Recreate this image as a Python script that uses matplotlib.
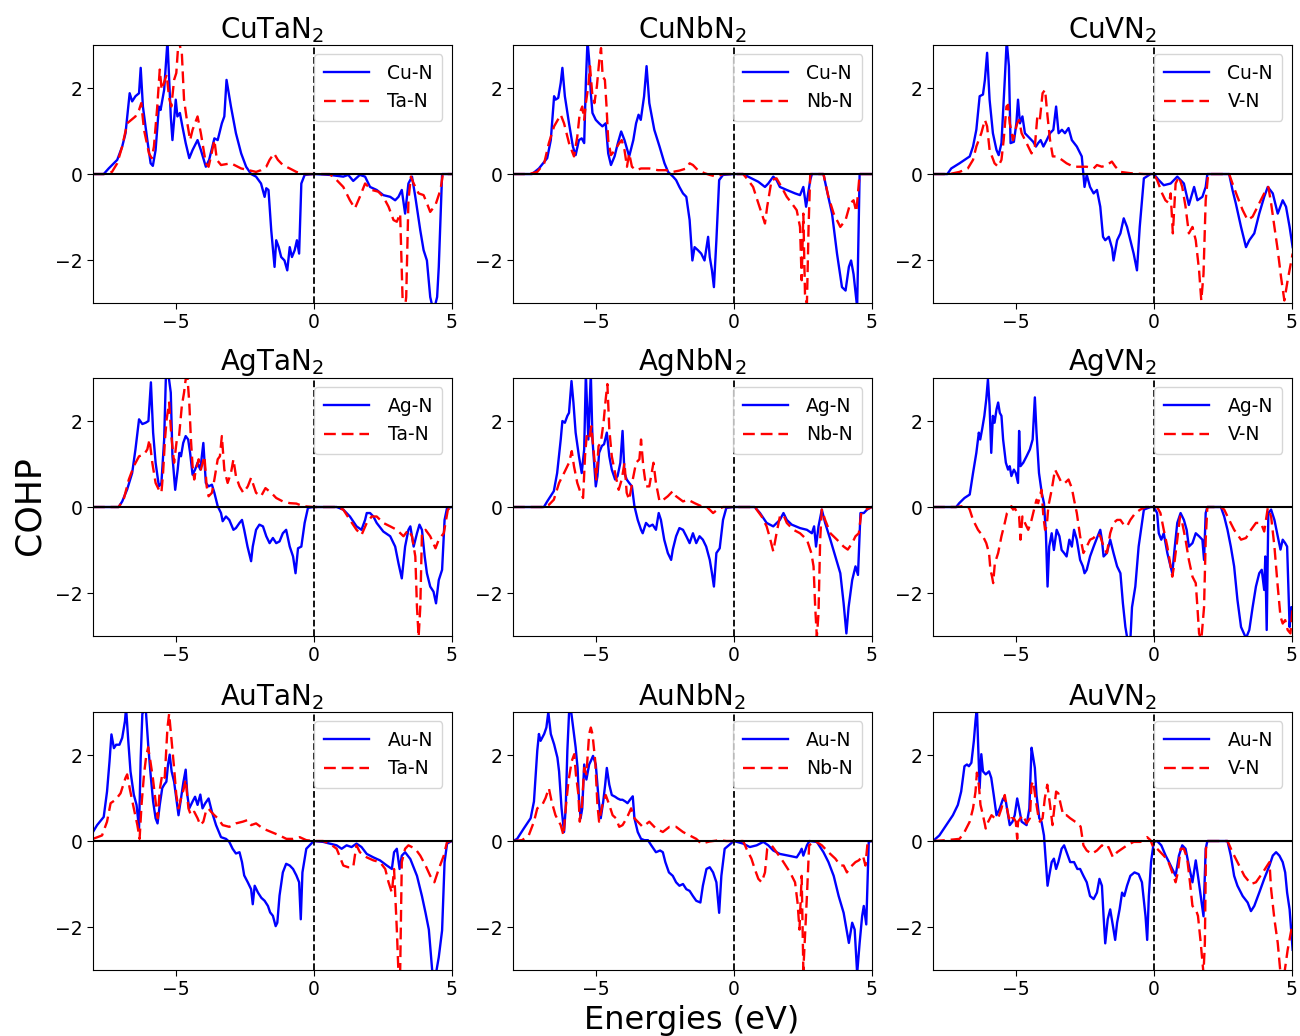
"""
COHP of M-N and X-N bonds for the nine MXN2 nitrides (M = Cu, Ag, Au; X = Ta, Nb, V).
Values are read off the original figure as (energy eV, COHP) pairs.
"""

import matplotlib
matplotlib.use("Agg")
import matplotlib.pyplot as plt
import numpy as np

# ---------------------------------------------------------------------------
# Data: (E, COHP) pairs for each curve
# ---------------------------------------------------------------------------

CUTA_M = [(-8, 0), (-7.61, 0), (-7.43, 0.13), (-7.12, 0.33), (-6.94, 0.64), (-6.82, 0.95), (-6.67, 1.88),
          (-6.58, 1.69), (-6.46, 1.81), (-6.33, 1.88), (-6.27, 2.47), (-6.19, 1.57), (-6.03, 0.79), (-5.91, 0.25),
          (-5.83, 0.19), (-5.73, 0.56), (-5.61, 1.57), (-5.55, 1.49), (-5.42, 1.96), (-5.30, 3.1), (-5.18, 1.34),
          (-5.12, 0.79), (-5.06, 1.26), (-5.00, 1.73), (-4.94, 1.34), (-4.85, 1.42), (-4.76, 1.11), (-4.64, 0.72),
          (-4.51, 0.37), (-4.39, 0.56), (-4.21, 0.79), (-4.09, 0.56), (-3.91, 0.17), (-3.79, 0.33), (-3.60, 0.83),
          (-3.48, 0.79), (-3.33, 1.18), (-3.24, 1.34), (-3.16, 2.19), (-3.00, 1.57), (-2.82, 0.95), (-2.63, 0.48),
          (-2.45, 0.17), (-2.27, 0), (-2.09, -0.06), (-1.91, -0.22), (-1.78, -0.53), (-1.72, -0.33), (-1.64, -0.37),
          (-1.54, -1.31), (-1.42, -2.16), (-1.36, -1.54), (-1.27, -1.70), (-1.18, -1.93), (-1.06, -2.01),
          (-0.96, -2.24), (-0.87, -1.70), (-0.79, -1.93), (-0.69, -1.77), (-0.61, -1.54), (-0.53, -1.85),
          (-0.45, -0.22), (-0.33, -0.02), (0, 0), (0.58, -0.02), (1.07, -0.06), (1.25, -0.02), (1.43, -0.16),
          (1.67, -0.02), (1.86, -0.06), (2.04, -0.30), (2.28, -0.37), (2.52, -0.49), (2.77, -0.53), (2.95, -0.61),
          (3.07, -0.53), (3.19, -0.37), (3.31, -0.92), (3.43, -0.22), (3.56, -0.06), (3.68, -0.53), (3.86, -1.31),
          (3.98, -1.77), (4.10, -2.01), (4.22, -2.86), (4.34, -3.2), (4.47, -2.86), (4.53, -2.16), (4.65, 0), (5, 0)]
CUTA_X = [(-8, 0), (-7.55, 0), (-7.31, 0.05), (-7.12, 0.25), (-6.94, 0.64), (-6.76, 1.18), (-6.46, 1.34),
          (-6.33, 1.49), (-6.25, 1.65), (-6.15, 1.03), (-5.97, 0.48), (-5.87, 0.37), (-5.79, 0.64), (-5.67, 1.57),
          (-5.58, 2.43), (-5.51, 1.96), (-5.33, 2.31), (-5.24, 1.77), (-5.16, 1.57), (-5.06, 2.19), (-4.98, 2.35),
          (-4.90, 3.1), (-4.78, 2.82), (-4.70, 1.73), (-4.58, 1.18), (-4.48, 0.79), (-4.39, 1.03), (-4.21, 1.34),
          (-4.09, 0.95), (-3.91, 0.25), (-3.81, 0.17), (-3.70, 0.48), (-3.60, 0.79), (-3.51, 0.33), (-3.36, 0.21),
          (-3.00, 0.25), (-2.63, 0.13), (-2.09, 0.05), (-1.91, 0.09), (-1.72, 0.17), (-1.60, 0.33), (-1.44, 0.48),
          (-1.30, 0.33), (-1.12, 0.21), (-0.87, 0.13), (-0.63, 0.05), (-0.39, 0), (0, 0), (0.58, 0), (0.83, -0.14),
          (1.07, -0.30), (1.31, -0.61), (1.49, -0.80), (1.67, -0.53), (1.86, -0.22), (2.10, -0.37), (2.34, -0.41),
          (2.52, -0.53), (2.71, -0.76), (2.89, -1.07), (3.01, -1.11), (3.13, -0.92), (3.22, -2.94), (3.29, -3.2),
          (3.35, -2.86), (3.43, -0.61), (3.52, -0.06), (3.62, -0.22), (3.80, -0.45), (3.98, -0.49), (4.10, -0.68),
          (4.22, -0.88), (4.41, -0.72), (4.59, -0.37), (4.68, 0), (5, 0)]

CUNB_M = [(-8, 0), (-7.31, 0), (-7.06, 0.13), (-6.76, 0.37), (-6.63, 0.79), (-6.51, 1.81), (-6.46, 1.73),
          (-6.36, 1.77), (-6.27, 2.12), (-6.21, 2.47), (-6.12, 1.81), (-5.97, 1.18), (-5.83, 0.64), (-5.73, 0.44),
          (-5.61, 0.79), (-5.51, 0.83), (-5.42, 0.72), (-5.36, 2.12), (-5.30, 3.1), (-5.24, 2.65), (-5.18, 1.88),
          (-5.12, 1.42), (-5.00, 1.26), (-4.88, 1.18), (-4.76, 1.11), (-4.64, 1.18), (-4.55, 0.48), (-4.45, 0.21),
          (-4.32, 0.41), (-4.20, 0.72), (-4.08, 0.99), (-3.96, 0.79), (-3.79, 0.41), (-3.64, 0.79), (-3.54, 1.18),
          (-3.45, 1.38), (-3.37, 1.26), (-3.25, 1.81), (-3.16, 2.51), (-3.06, 1.65), (-2.88, 1.03), (-2.69, 0.64),
          (-2.51, 0.25), (-2.38, 0.05), (-2.20, -0.06), (-2.09, -0.14), (-1.97, -0.30), (-1.84, -0.45),
          (-1.72, -0.53), (-1.60, -1.07), (-1.50, -2.01), (-1.42, -1.70), (-1.30, -1.77), (-1.18, -1.85),
          (-1.06, -2.01), (-0.93, -1.46), (-0.87, -1.93), (-0.79, -2.24), (-0.72, -2.63), (-0.63, -1.54),
          (-0.53, -0.14), (-0.39, -0.02), (0, 0), (0.34, 0), (0.58, -0.08), (0.89, -0.18), (1.13, -0.30),
          (1.25, -0.22), (1.43, -0.06), (1.55, -0.14), (1.67, -0.30), (1.92, -0.37), (2.22, -0.45), (2.40, -0.49),
          (2.52, -0.30), (2.62, -0.76), (2.77, -0.14), (2.83, 0), (3.25, 0), (3.37, -0.37), (3.56, -0.92),
          (3.74, -1.85), (3.92, -2.63), (4.05, -2.71), (4.17, -2.16), (4.25, -2.01), (4.34, -2.33), (4.47, -3.1),
          (4.56, 0), (5, 0)]
CUNB_X = [(-8, 0), (-7.43, 0), (-7.12, 0.05), (-6.87, 0.25), (-6.70, 0.72), (-6.51, 1.11), (-6.27, 1.38),
          (-6.15, 1.18), (-5.97, 0.72), (-5.79, 0.41), (-5.67, 0.87), (-5.58, 1.42), (-5.49, 1.57), (-5.42, 1.26),
          (-5.36, 1.65), (-5.27, 2.04), (-5.21, 2.51), (-5.13, 1.88), (-5.05, 1.65), (-4.96, 2.04), (-4.87, 2.66),
          (-4.81, 2.93), (-4.75, 2.27), (-4.67, 2.19), (-4.61, 1.57), (-4.55, 0.79), (-4.45, 0.44), (-4.30, 0.56),
          (-4.15, 0.72), (-4.06, 0.79), (-3.96, 0.56), (-3.87, 0.17), (-3.79, 0.48), (-3.69, 0.17), (-3.54, 0.09),
          (-3.36, 0.13), (-3.06, 0.13), (-2.75, 0.09), (-2.45, 0.09), (-2.21, 0.05), (-1.97, 0.08), (-1.72, 0.13),
          (-1.60, 0.25), (-1.48, 0.21), (-1.30, 0.09), (-1.06, 0.02), (-0.87, -0.02), (-0.63, -0.06), (-0.39, 0),
          (0, 0), (0.34, 0), (0.52, -0.14), (0.70, -0.30), (0.89, -0.68), (1.13, -1.15), (1.21, -0.76),
          (1.37, -0.14), (1.55, -0.10), (1.73, -0.30), (1.92, -0.53), (2.10, -0.68), (2.28, -0.84), (2.40, -1.23),
          (2.46, -2.47), (2.52, -0.92), (2.58, -2.79), (2.65, -3.02), (2.71, -1.23), (2.77, 0), (3.25, 0),
          (3.43, -0.53), (3.62, -0.92), (3.86, -1.23), (4.05, -1.07), (4.22, -0.68), (4.34, -0.61), (4.44, -0.88),
          (4.56, 0), (5, 0)]

CUV_M = [(-8, 0), (-7.48, 0), (-7.34, 0.13), (-7.04, 0.25), (-6.67, 0.41), (-6.55, 0.64), (-6.43, 1.03),
         (-6.31, 1.81), (-6.19, 1.85), (-6.12, 2.19), (-6.04, 2.82), (-5.95, 1.73), (-5.83, 0.95), (-5.70, 0.56),
         (-5.62, 0.44), (-5.52, 0.72), (-5.40, 2.19), (-5.33, 3.1), (-5.25, 2.51), (-5.19, 0.72), (-5.07, 0.75),
         (-4.98, 1.18), (-4.92, 1.73), (-4.85, 1.18), (-4.76, 1.34), (-4.67, 0.95), (-4.55, 0.87), (-4.37, 0.75),
         (-4.27, 0.64), (-4.19, 0.72), (-4.10, 0.79), (-4.00, 0.64), (-3.88, 0.79), (-3.76, 0.95), (-3.64, 1.03),
         (-3.54, 1.57), (-3.45, 0.95), (-3.33, 1.03), (-3.22, 0.95), (-3.09, 1.07), (-2.97, 0.79), (-2.79, 0.64),
         (-2.61, 0.41), (-2.51, -0.30), (-2.43, -0.02), (-2.31, -0.30), (-2.18, -0.45), (-2.06, -0.37),
         (-1.94, -0.76), (-1.84, -1.46), (-1.76, -1.54), (-1.63, -1.46), (-1.51, -1.73), (-1.46, -2.01),
         (-1.33, -1.54), (-1.21, -1.38), (-1.09, -1.03), (-0.97, -1.23), (-0.85, -1.54), (-0.73, -1.85),
         (-0.61, -2.24), (-0.51, -1.23), (-0.36, -0.10), (-0.12, 0), (0, 0), (0.18, -0.14), (0.36, -0.26),
         (0.61, -0.22), (0.73, -0.14), (0.85, -0.06), (0.97, -0.14), (1.09, -0.22), (1.27, -0.72), (1.46, -0.30),
         (1.58, -0.61), (1.76, -0.53), (1.88, -0.30), (1.94, 0), (2.73, 0), (2.85, -0.37), (2.97, -0.68),
         (3.16, -1.23), (3.34, -1.70), (3.46, -1.54), (3.64, -1.38), (3.82, -0.92), (4.00, -0.53), (4.13, -0.30),
         (4.31, -0.45), (4.49, -0.92), (4.67, -0.61), (4.79, -0.76), (4.92, -1.23), (5.03, -1.70)]
CUV_X = [(-8, 0), (-7.40, 0), (-7.04, 0.05), (-6.74, 0.13), (-6.55, 0.33), (-6.43, 0.64), (-6.25, 0.95),
         (-6.12, 1.26), (-6.04, 1.11), (-5.95, 0.56), (-5.77, 0.25), (-5.64, 0.17), (-5.52, 0.33), (-5.44, 0.79),
         (-5.34, 1.57), (-5.28, 1.61), (-5.22, 1.18), (-5.10, 0.79), (-4.95, 1.18), (-4.88, 1.26), (-4.79, 0.95),
         (-4.61, 0.72), (-4.43, 0.48), (-4.31, 0.64), (-4.22, 1.34), (-4.13, 1.26), (-4.03, 1.88), (-3.94, 1.96),
         (-3.85, 1.34), (-3.76, 0.79), (-3.66, 0.41), (-3.52, 0.41), (-3.33, 0.33), (-3.16, 0.25), (-2.91, 0.17),
         (-2.67, 0.17), (-2.43, 0.17), (-2.18, 0.13), (-2.06, 0.21), (-1.88, 0.17), (-1.70, 0.21), (-1.52, 0.29),
         (-1.39, 0.17), (-1.21, 0.05), (-0.85, 0.02), (-0.36, 0), (0, 0), (0.12, -0.14), (0.30, -0.45),
         (0.42, -0.61), (0.55, -0.68), (0.61, -0.45), (0.69, -1.38), (0.79, -0.22), (0.91, -0.06), (1.03, -0.30),
         (1.15, -0.76), (1.27, -1.38), (1.40, -1.23), (1.52, -1.54), (1.64, -2.24), (1.72, -2.94), (1.80, -2.33),
         (1.88, -0.61), (1.97, 0), (2.73, 0), (2.85, -0.22), (3.03, -0.53), (3.22, -0.84), (3.40, -1.07),
         (3.58, -0.99), (3.82, -0.68), (4.00, -0.45), (4.15, -0.30), (4.25, -0.68), (4.37, -1.23), (4.49, -1.77),
         (4.61, -2.40), (4.73, -2.94), (4.85, -2.47), (5.03, -1.85)]

AGTA_M = [(-8, 0), (-7.07, 0), (-6.94, 0.13), (-6.76, 0.41), (-6.58, 0.79), (-6.46, 1.34), (-6.33, 2.04),
          (-6.21, 1.93), (-6.09, 1.96), (-5.99, 2.00), (-5.90, 2.90), (-5.82, 1.73), (-5.73, 1.03), (-5.61, 0.48),
          (-5.52, 0.56), (-5.42, 1.57), (-5.36, 2.97), (-5.27, 3.1), (-5.18, 2.66), (-5.12, 1.18), (-5.02, 0.40),
          (-4.93, 0.87), (-4.87, 1.26), (-4.81, 1.18), (-4.73, 1.49), (-4.64, 1.65), (-4.55, 1.57), (-4.48, 1.26),
          (-4.39, 0.75), (-4.30, 0.87), (-4.21, 1.03), (-4.11, 0.87), (-4.00, 1.49), (-3.91, 0.56), (-3.81, 0.48),
          (-3.69, 0.52), (-3.60, 0.33), (-3.48, 0.02), (-3.36, -0.14), (-3.30, -0.33), (-3.18, -0.22),
          (-3.06, -0.30), (-2.91, -0.53), (-2.82, -0.49), (-2.69, -0.37), (-2.60, -0.30), (-2.52, -0.53),
          (-2.40, -0.92), (-2.27, -1.26), (-2.21, -0.92), (-2.09, -0.53), (-1.97, -0.41), (-1.84, -0.45),
          (-1.72, -0.68), (-1.60, -0.84), (-1.48, -0.72), (-1.36, -0.84), (-1.24, -0.80), (-1.12, -0.61),
          (-1.00, -0.53), (-0.87, -0.92), (-0.75, -1.15), (-0.66, -1.54), (-0.57, -0.96), (-0.45, -0.92),
          (-0.33, -0.37), (-0.21, -0.02), (0, 0), (0.83, 0), (1.07, -0.06), (1.31, -0.22), (1.55, -0.45),
          (1.73, -0.53), (1.86, -0.30), (1.92, -0.14), (2.04, -0.14), (2.16, -0.22), (2.28, -0.37), (2.52, -0.57),
          (2.77, -0.68), (2.95, -0.92), (3.07, -1.31), (3.19, -1.66), (3.31, -0.92), (3.43, -0.53), (3.50, -0.45),
          (3.62, -0.92), (3.74, -0.61), (3.83, -0.41), (3.92, -0.53), (4.02, -1.15), (4.10, -1.54), (4.22, -1.85),
          (4.34, -1.97), (4.43, -2.24), (4.53, -1.70), (4.65, -1.46), (4.74, -0.30), (4.83, -0.02), (5, 0)]
AGTA_X = [(-8, 0), (-7.07, 0), (-6.89, 0.17), (-6.70, 0.64), (-6.52, 0.95), (-6.33, 1.18), (-6.15, 1.22),
          (-6.03, 1.34), (-5.95, 1.57), (-5.85, 1.03), (-5.73, 0.56), (-5.61, 0.40), (-5.52, 0.33), (-5.46, 0.79),
          (-5.39, 1.57), (-5.33, 2.04), (-5.24, 2.43), (-5.16, 1.65), (-5.06, 1.03), (-4.96, 1.57), (-4.88, 1.65),
          (-4.78, 2.35), (-4.70, 2.66), (-4.64, 2.97), (-4.58, 3.05), (-4.51, 2.43), (-4.45, 1.57), (-4.39, 0.95),
          (-4.33, 0.64), (-4.27, 0.87), (-4.17, 1.11), (-4.09, 0.87), (-3.96, 1.18), (-3.88, 0.48), (-3.81, 0.25),
          (-3.69, 0.33), (-3.60, 0.64), (-3.48, 1.11), (-3.40, 1.18), (-3.33, 1.65), (-3.24, 0.87), (-3.12, 0.56),
          (-3.00, 0.79), (-2.91, 1.11), (-2.82, 0.72), (-2.69, 0.48), (-2.55, 0.33), (-2.39, 0.48), (-2.27, 0.68),
          (-2.21, 0.56), (-2.09, 0.33), (-1.91, 0.25), (-1.75, 0.44), (-1.54, 0.33), (-1.36, 0.21), (-1.12, 0.13),
          (-0.87, 0.09), (-0.63, 0.08), (-0.39, 0.02), (0, 0), (0.83, 0), (1.07, -0.06), (1.31, -0.30),
          (1.55, -0.53), (1.73, -0.65), (1.92, -0.37), (2.10, -0.22), (2.28, -0.22), (2.52, -0.37), (2.77, -0.45),
          (3.01, -0.53), (3.25, -0.68), (3.43, -0.53), (3.56, -0.68), (3.68, -1.15), (3.74, -2.33), (3.80, -3.02),
          (3.86, -2.33), (3.92, -0.61), (4.05, -0.53), (4.22, -0.68), (4.41, -0.96), (4.53, -0.76), (4.71, -0.61),
          (4.86, -0.06), (5, 0)]

AGNB_M = [(-8, 0), (-6.88, 0), (-6.76, 0.13), (-6.52, 0.37), (-6.40, 0.79), (-6.27, 1.57), (-6.21, 2.00),
          (-6.12, 1.96), (-6.03, 2.12), (-5.97, 2.19), (-5.88, 2.93), (-5.81, 2.43), (-5.73, 1.73), (-5.61, 1.18),
          (-5.51, 0.79), (-5.42, 1.34), (-5.36, 3.1), (-5.27, 1.57), (-5.18, 3.1), (-5.12, 1.57), (-5.00, 0.48),
          (-4.94, 0.72), (-4.88, 1.26), (-4.78, 1.42), (-4.70, 1.46), (-4.60, 1.73), (-4.51, 1.18), (-4.42, 0.87),
          (-4.30, 0.64), (-4.21, 0.72), (-4.11, 1.03), (-4.03, 1.77), (-3.96, 0.79), (-3.88, 0.64), (-3.79, 0.56),
          (-3.69, 0.48), (-3.60, 0.02), (-3.48, -0.30), (-3.36, -0.53), (-3.30, -0.61), (-3.18, -0.37),
          (-3.06, -0.45), (-2.94, -0.41), (-2.82, -0.53), (-2.72, -0.14), (-2.64, -0.30), (-2.52, -0.76),
          (-2.39, -1.07), (-2.27, -1.23), (-2.21, -0.99), (-2.09, -0.68), (-1.97, -0.49), (-1.84, -0.53),
          (-1.72, -0.68), (-1.60, -0.84), (-1.48, -0.61), (-1.36, -0.84), (-1.24, -0.68), (-1.12, -0.76),
          (-1.00, -0.92), (-0.87, -1.23), (-0.79, -1.54), (-0.72, -1.85), (-0.63, -1.07), (-0.51, -0.96),
          (-0.39, -0.30), (-0.27, -0.02), (0, 0), (0.76, 0), (0.95, -0.14), (1.19, -0.37), (1.43, -0.45),
          (1.67, -0.30), (1.80, -0.14), (1.92, -0.30), (2.10, -0.41), (2.40, -0.49), (2.65, -0.53), (2.83, -0.61),
          (2.91, -0.45), (2.98, -0.92), (3.07, -0.45), (3.19, -0.06), (3.31, -0.37), (3.50, -0.76), (3.68, -1.15),
          (3.86, -1.54), (3.98, -2.24), (4.08, -2.94), (4.16, -2.33), (4.29, -1.70), (4.41, -1.38), (4.50, -1.58),
          (4.59, -0.14), (4.71, -0.14), (4.83, -0.06), (5, 0)]
AGNB_X = [(-8, 0), (-6.94, 0), (-6.70, 0.05), (-6.52, 0.17), (-6.33, 0.56), (-6.15, 0.79), (-5.97, 1.03),
          (-5.87, 1.30), (-5.79, 0.95), (-5.67, 0.56), (-5.55, 0.33), (-5.46, 0.21), (-5.39, 1.18), (-5.33, 1.65),
          (-5.24, 1.57), (-5.16, 1.88), (-5.06, 1.18), (-4.98, 0.64), (-4.90, 1.42), (-4.82, 1.49), (-4.72, 1.96),
          (-4.64, 2.51), (-4.58, 2.86), (-4.51, 1.81), (-4.42, 1.18), (-4.30, 0.79), (-4.17, 0.40), (-4.06, 0.64),
          (-3.96, 1.03), (-3.88, 0.33), (-3.79, 0.17), (-3.66, 0.64), (-3.54, 1.03), (-3.42, 1.11), (-3.36, 1.57),
          (-3.28, 0.95), (-3.18, 0.48), (-3.06, 0.48), (-2.91, 1.03), (-2.82, 0.56), (-2.69, 0.13), (-2.55, 0.17),
          (-2.39, 0.25), (-2.21, 0.37), (-2.09, 0.25), (-1.84, 0.13), (-1.66, 0.17), (-1.42, 0.09), (-1.18, 0.02),
          (-0.94, -0.02), (-0.75, -0.14), (-0.57, -0.05), (-0.39, 0), (0, 0), (0.76, 0), (1.01, -0.22),
          (1.19, -0.45), (1.31, -0.72), (1.43, -1.03), (1.55, -0.61), (1.67, -0.22), (1.80, -0.18), (1.92, -0.37),
          (2.16, -0.53), (2.40, -0.61), (2.65, -0.76), (2.81, -1.07), (2.89, -1.38), (2.95, -2.33), (3.01, -3.02),
          (3.07, -2.47), (3.13, -0.76), (3.19, -0.06), (3.31, -0.30), (3.50, -0.61), (3.74, -0.76), (3.98, -0.92),
          (4.13, -0.99), (4.29, -0.84), (4.41, -0.68), (4.53, -0.61), (4.62, -0.14), (4.78, -0.06), (5, 0)]

AGV_M = [(-8, 0), (-7.16, 0), (-7.05, 0.09), (-6.86, 0.21), (-6.67, 0.29), (-6.55, 0.79), (-6.43, 1.26),
         (-6.34, 1.73), (-6.29, 1.57), (-6.22, 1.81), (-6.14, 2.12), (-6.07, 2.51), (-6.01, 2.97), (-5.95, 2.35),
         (-5.89, 1.26), (-5.83, 2.12), (-5.77, 1.96), (-5.70, 2.27), (-5.64, 2.43), (-5.58, 2.19), (-5.52, 2.12),
         (-5.46, 1.57), (-5.36, 1.03), (-5.28, 0.87), (-5.22, 0.95), (-5.16, 0.72), (-5.07, 0.87), (-5.00, 0.79),
         (-4.92, 0.56), (-4.88, 1.77), (-4.83, 0.95), (-4.73, 1.03), (-4.61, 1.18), (-4.49, 1.34), (-4.39, 1.57),
         (-4.31, 2.55), (-4.25, 1.73), (-4.16, 0.79), (-4.06, 0.33), (-3.98, 0.09), (-3.91, -0.61), (-3.85, -1.85),
         (-3.79, -0.92), (-3.70, -0.61), (-3.62, -1.00), (-3.52, -0.53), (-3.42, -0.68), (-3.34, -1.00),
         (-3.25, -1.07), (-3.16, -1.15), (-3.06, -0.76), (-2.97, -0.92), (-2.89, -0.53), (-2.79, -0.76),
         (-2.67, -1.23), (-2.57, -1.38), (-2.51, -1.54), (-2.43, -1.46), (-2.31, -1.15), (-2.18, -0.92),
         (-2.06, -0.72), (-1.94, -0.53), (-1.88, -0.76), (-1.82, -1.15), (-1.70, -1.07), (-1.58, -0.76),
         (-1.46, -1.07), (-1.33, -1.38), (-1.21, -1.54), (-1.12, -2.24), (-1.03, -2.79), (-0.95, -3.1),
         (-0.85, -3.1), (-0.79, -2.33), (-0.67, -1.85), (-0.55, -0.92), (-0.36, -0.06), (-0.12, 0), (0, 0),
         (0.12, -0.14), (0.18, -0.61), (0.27, -0.76), (0.36, -0.61), (0.49, -1.07), (0.58, -1.31), (0.67, -1.54),
         (0.75, -0.99), (0.85, -0.37), (0.97, -0.14), (1.09, -0.30), (1.19, -0.53), (1.27, -0.92), (1.40, -0.84),
         (1.52, -0.61), (1.64, -0.68), (1.76, -0.76), (1.82, -1.23), (1.88, -0.14), (1.94, 0), (2.43, 0),
         (2.55, -0.22), (2.67, -0.53), (2.79, -0.92), (2.91, -1.38), (3.03, -2.16), (3.16, -2.79), (3.34, -3.05),
         (3.46, -2.86), (3.58, -2.33), (3.70, -1.85), (3.82, -1.54), (3.91, -1.46), (4.00, -1.93), (4.04, -1.15),
         (4.09, -2.86), (4.15, -0.14), (4.25, -0.06), (4.37, -0.30), (4.49, -0.68), (4.59, -0.99), (4.67, -0.76),
         (4.76, -0.84), (4.83, -0.92), (4.92, -2.79), (4.98, -2.33), (5.03, -2.33)]
AGV_X = [(-8, 0), (-7.16, 0), (-6.92, 0.02), (-6.74, 0.02), (-6.67, -0.06), (-6.55, -0.30), (-6.37, -0.53),
         (-6.19, -0.68), (-6.07, -0.84), (-5.97, -1.07), (-5.92, -1.46), (-5.86, -1.62), (-5.82, -1.77),
         (-5.76, -1.31), (-5.64, -1.07), (-5.52, -0.68), (-5.40, -0.37), (-5.32, -0.14), (-5.22, -0.06),
         (-5.16, 0.02), (-5.10, -0.06), (-5.04, -0.02), (-4.95, -0.14), (-4.88, -0.22), (-4.83, -0.76),
         (-4.76, -0.22), (-4.67, -0.37), (-4.55, -0.53), (-4.43, -0.30), (-4.31, 0.02), (-4.25, 0.17),
         (-4.19, 0.09), (-4.13, 0.25), (-4.07, 0.40), (-4.00, -0.22), (-3.94, -0.53), (-3.88, -0.45),
         (-3.82, 0.02), (-3.70, 0.40), (-3.58, 0.87), (-3.46, 0.72), (-3.34, 0.56), (-3.22, 0.56), (-3.09, 0.64),
         (-2.97, 0.44), (-2.89, 0.17), (-2.79, -0.14), (-2.67, -0.68), (-2.55, -1.07), (-2.43, -0.92),
         (-2.31, -0.76), (-2.18, -0.72), (-2.06, -0.61), (-1.94, -0.68), (-1.82, -0.92), (-1.70, -1.07),
         (-1.58, -0.61), (-1.46, -0.37), (-1.33, -0.30), (-1.21, -0.30), (-1.09, -0.41), (-0.97, -0.45),
         (-0.85, -0.30), (-0.67, -0.14), (-0.49, -0.06), (-0.30, 0), (0, 0), (0.12, 0), (0.24, -0.14),
         (0.36, -0.53), (0.49, -0.92), (0.61, -1.38), (0.67, -1.62), (0.73, -1.38), (0.85, -0.76), (0.95, -0.22),
         (1.03, -0.37), (1.15, -0.76), (1.27, -1.23), (1.40, -1.62), (1.52, -1.77), (1.58, -2.33), (1.64, -2.94),
         (1.72, -3.1), (1.82, -2.33), (1.88, -0.76), (1.94, 0), (2.43, 0), (2.55, -0.06), (2.73, -0.30),
         (2.91, -0.53), (3.16, -0.76), (3.34, -0.72), (3.52, -0.53), (3.70, -0.37), (3.88, -0.37), (4.00, -0.57),
         (4.13, -0.02), (4.25, -0.22), (4.37, -0.92), (4.49, -1.85), (4.59, -2.55), (4.67, -2.71), (4.76, -2.63),
         (4.85, -2.86), (4.95, -2.94), (5.03, -2.33)]

AUTA_M = [(-8, 0.21), (-7.85, 0.37), (-7.61, 0.56), (-7.49, 1.15), (-7.40, 1.85), (-7.33, 2.48), (-7.24, 2.16),
          (-7.16, 2.24), (-7.04, 2.24), (-6.94, 2.40), (-6.84, 2.79), (-6.80, 3.1), (-6.72, 2.33), (-6.64, 1.62),
          (-6.52, 1.08), (-6.42, 0.84), (-6.33, 0.29), (-6.27, 1.93), (-6.21, 2.96), (-6.09, 3.1), (-5.99, 2.16),
          (-5.91, 1.54), (-5.82, 0.92), (-5.73, 0.53), (-5.66, 0.41), (-5.58, 0.84), (-5.49, 1.23), (-5.42, 1.31),
          (-5.34, 1.38), (-5.28, 1.78), (-5.22, 2.01), (-5.15, 1.62), (-5.06, 1.38), (-4.98, 0.99), (-4.90, 0.60),
          (-4.81, 0.99), (-4.72, 1.38), (-4.64, 1.66), (-4.58, 1.07), (-4.51, 0.76), (-4.39, 0.92), (-4.30, 1.03),
          (-4.21, 0.84), (-4.11, 1.08), (-4.03, 0.76), (-3.93, 0.88), (-3.81, 0.99), (-3.69, 0.68), (-3.54, 0.37),
          (-3.36, 0.09), (-3.18, 0.05), (-3.06, -0.02), (-2.94, -0.18), (-2.82, -0.29), (-2.69, -0.26),
          (-2.60, -0.49), (-2.52, -0.80), (-2.39, -0.96), (-2.27, -1.12), (-2.21, -1.47), (-2.14, -1.04),
          (-2.02, -1.20), (-1.90, -1.32), (-1.78, -1.39), (-1.66, -1.51), (-1.58, -1.66), (-1.48, -1.74),
          (-1.38, -1.98), (-1.32, -1.90), (-1.24, -1.27), (-1.12, -0.73), (-1.00, -0.53), (-0.87, -0.57),
          (-0.75, -0.65), (-0.63, -0.80), (-0.53, -0.96), (-0.47, -1.82), (-0.41, -0.73), (-0.27, -0.18), (0, 0),
          (0.34, -0.02), (0.58, -0.06), (0.83, -0.10), (1.01, -0.18), (1.19, -0.10), (1.37, -0.14), (1.55, -0.06),
          (1.73, -0.14), (1.92, -0.30), (2.16, -0.38), (2.40, -0.45), (2.65, -0.57), (2.83, -0.65), (2.91, -0.26),
          (3.01, -0.18), (3.11, -0.65), (3.19, -0.34), (3.31, -0.26), (3.50, -0.42), (3.74, -0.81), (3.92, -1.28),
          (4.05, -1.67), (4.17, -2.06), (4.29, -3.0), (4.41, -3.15), (4.53, -2.70), (4.65, -2.08), (4.74, -0.49),
          (4.83, -0.06), (5, 0)]
AUTA_X = [(-8, 0.05), (-7.67, 0.13), (-7.49, 0.45), (-7.36, 0.88), (-7.18, 0.96), (-7.00, 1.11), (-6.82, 1.47),
          (-6.76, 1.55), (-6.67, 1.23), (-6.52, 0.76), (-6.39, 0.37), (-6.31, 0.05), (-6.24, 0.84), (-6.15, 1.55),
          (-6.07, 1.98), (-6.00, 2.18), (-5.92, 1.86), (-5.83, 1.47), (-5.73, 0.92), (-5.65, 0.53), (-5.58, 1.19),
          (-5.49, 1.55), (-5.40, 1.47), (-5.30, 2.64), (-5.24, 2.96), (-5.15, 2.33), (-5.06, 1.70), (-4.98, 1.07),
          (-4.90, 0.76), (-4.81, 0.99), (-4.72, 1.19), (-4.64, 1.43), (-4.54, 0.76), (-4.45, 0.60), (-4.33, 0.68),
          (-4.21, 0.53), (-4.11, 0.37), (-4.00, 0.45), (-3.91, 0.68), (-3.82, 0.76), (-3.72, 0.68), (-3.60, 0.60),
          (-3.48, 0.53), (-3.30, 0.37), (-3.06, 0.33), (-2.82, 0.41), (-2.57, 0.45), (-2.39, 0.49), (-2.27, 0.37),
          (-2.09, 0.41), (-1.84, 0.29), (-1.54, 0.21), (-1.24, 0.13), (-0.99, 0.05), (-0.75, 0.05), (-0.51, 0.09),
          (-0.27, 0.02), (0, 0), (0.34, 0), (0.58, -0.06), (0.83, -0.18), (1.07, -0.57), (1.25, -0.61),
          (1.43, -0.61), (1.49, -0.34), (1.55, -0.10), (1.67, -0.26), (1.92, -0.38), (2.16, -0.45), (2.40, -0.49),
          (2.59, -0.65), (2.71, -0.96), (2.83, -1.20), (2.91, -0.65), (3.01, -2.06), (3.07, -3.08), (3.13, -3.08),
          (3.19, -0.49), (3.31, -0.18), (3.43, -0.10), (3.68, -0.18), (3.86, -0.34), (4.05, -0.57), (4.22, -0.81),
          (4.37, -0.96), (4.53, -0.65), (4.71, -0.34), (4.83, -0.02), (5, 0)]

AUNB_M = [(-8, 0), (-7.85, 0.05), (-7.61, 0.29), (-7.36, 0.53), (-7.24, 0.92), (-7.12, 2.10), (-7.06, 2.49),
          (-7.00, 2.33), (-6.87, 2.49), (-6.79, 2.64), (-6.72, 3.0), (-6.63, 2.49), (-6.51, 2.25), (-6.39, 1.94),
          (-6.33, 1.62), (-6.24, 0.76), (-6.15, 0.21), (-6.09, 0.76), (-6.03, 2.10), (-5.97, 2.96), (-5.91, 3.1),
          (-5.82, 2.64), (-5.73, 2.18), (-5.66, 1.70), (-5.61, 0.99), (-5.55, 0.53), (-5.49, 0.76), (-5.42, 1.78),
          (-5.34, 1.43), (-5.24, 1.78), (-5.18, 1.86), (-5.10, 1.98), (-5.00, 1.78), (-4.90, 0.99), (-4.82, 0.53),
          (-4.73, 0.92), (-4.66, 1.31), (-4.60, 1.70), (-4.51, 1.31), (-4.42, 1.07), (-4.30, 1.03), (-4.21, 0.99),
          (-4.11, 0.96), (-4.03, 0.96), (-3.93, 0.92), (-3.85, 0.88), (-3.76, 0.96), (-3.66, 1.04), (-3.60, 0.53),
          (-3.48, 0.21), (-3.36, 0.05), (-3.24, 0.02), (-3.11, 0.02), (-2.99, -0.10), (-2.82, -0.26),
          (-2.67, -0.22), (-2.57, -0.26), (-2.48, -0.49), (-2.35, -0.73), (-2.21, -0.81), (-2.09, -0.96),
          (-1.97, -1.04), (-1.84, -1.00), (-1.72, -1.12), (-1.60, -1.16), (-1.48, -1.28), (-1.36, -1.39),
          (-1.21, -1.43), (-1.12, -1.04), (-0.99, -0.65), (-0.87, -0.61), (-0.75, -0.73), (-0.63, -0.96),
          (-0.53, -1.67), (-0.45, -0.81), (-0.33, -0.18), (0, 0), (0.34, -0.06), (0.58, -0.14), (0.83, -0.10),
          (1.07, -0.02), (1.25, -0.10), (1.43, -0.22), (1.67, -0.30), (1.98, -0.34), (2.28, -0.38), (2.40, -0.26),
          (2.46, -0.18), (2.52, -0.34), (2.65, -0.10), (2.74, 0), (3.01, -0.02), (3.25, -0.26), (3.43, -0.49),
          (3.62, -0.81), (3.80, -1.28), (3.98, -1.67), (4.17, -2.37), (4.29, -1.90), (4.38, -2.06), (4.47, -3.08),
          (4.56, -2.37), (4.65, -1.75), (4.71, -1.51), (4.80, -1.94), (4.89, -0.02), (5, 0)]
AUNB_X = [(-8, 0), (-7.67, 0.02), (-7.43, 0.13), (-7.24, 0.45), (-7.12, 0.76), (-6.94, 0.84), (-6.82, 1.00),
          (-6.70, 1.23), (-6.60, 0.92), (-6.46, 0.60), (-6.27, 0.37), (-6.17, 0.13), (-6.09, 0.76), (-5.99, 1.39),
          (-5.87, 1.86), (-5.78, 2.02), (-5.72, 1.55), (-5.63, 1.08), (-5.58, 0.45), (-5.50, 0.84), (-5.42, 1.70),
          (-5.34, 1.55), (-5.24, 2.49), (-5.18, 2.64), (-5.12, 2.49), (-5.02, 1.86), (-4.94, 0.84), (-4.88, 0.45),
          (-4.76, 0.84), (-4.64, 1.07), (-4.51, 0.84), (-4.39, 0.60), (-4.27, 0.53), (-4.15, 0.33), (-4.03, 0.37),
          (-3.88, 0.53), (-3.72, 0.76), (-3.60, 0.53), (-3.48, 0.45), (-3.30, 0.33), (-3.06, 0.45), (-2.82, 0.29),
          (-2.57, 0.21), (-2.33, 0.33), (-2.09, 0.33), (-1.84, 0.21), (-1.60, 0.13), (-1.36, 0.05), (-1.18, -0.06),
          (-0.87, -0.01), (-0.51, 0.02), (-0.27, 0), (0, 0), (0.34, 0), (0.46, -0.18), (0.64, -0.41),
          (0.76, -0.65), (0.89, -0.88), (1.01, -0.96), (1.13, -0.73), (1.21, -0.18), (1.37, -0.10), (1.55, -0.26),
          (1.80, -0.49), (2.04, -0.73), (2.22, -0.96), (2.31, -1.43), (2.38, -2.06), (2.46, -0.81), (2.52, -3.0),
          (2.58, -2.22), (2.65, -1.28), (2.73, -0.10), (2.95, 0), (3.19, -0.10), (3.43, -0.26), (3.68, -0.41),
          (3.86, -0.57), (3.98, -0.57), (4.10, -0.73), (4.22, -0.61), (4.41, -0.49), (4.53, -0.45), (4.68, -0.34),
          (4.77, -0.57), (4.85, -0.02), (5, 0)]

AUV_M = [(-8, 0), (-7.77, 0.13), (-7.52, 0.37), (-7.28, 0.60), (-7.10, 0.84), (-6.98, 1.15), (-6.86, 1.74),
         (-6.77, 1.78), (-6.70, 1.74), (-6.61, 1.82), (-6.52, 2.33), (-6.46, 2.80), (-6.41, 3.1), (-6.37, 2.33),
         (-6.31, 1.23), (-6.25, 2.02), (-6.19, 1.62), (-6.09, 1.55), (-5.97, 1.62), (-5.89, 1.47), (-5.80, 1.07),
         (-5.70, 0.60), (-5.58, 0.76), (-5.46, 0.99), (-5.36, 0.92), (-5.28, 0.60), (-5.22, 0.37), (-5.12, 0.45),
         (-5.04, 0.60), (-4.95, 0.99), (-4.88, 0.76), (-4.79, 0.45), (-4.70, 0.41), (-4.61, 0.37), (-4.51, 0.76),
         (-4.43, 2.17), (-4.37, 1.94), (-4.31, 1.70), (-4.25, 1.07), (-4.15, 0.53), (-4.07, 0.45), (-3.98, 0.13),
         (-3.92, -0.41), (-3.85, -1.04), (-3.79, -0.81), (-3.70, -0.49), (-3.62, -0.41), (-3.54, -0.65),
         (-3.46, -0.49), (-3.34, -0.18), (-3.25, -0.10), (-3.16, -0.26), (-3.03, -0.49), (-2.89, -0.49),
         (-2.77, -0.65), (-2.67, -0.65), (-2.55, -0.81), (-2.43, -0.96), (-2.31, -1.28), (-2.18, -1.35),
         (-2.06, -1.20), (-1.97, -0.88), (-1.88, -1.04), (-1.82, -1.75), (-1.76, -2.38), (-1.67, -1.82),
         (-1.58, -1.59), (-1.48, -1.98), (-1.40, -2.30), (-1.33, -1.90), (-1.24, -1.59), (-1.15, -1.20),
         (-1.07, -1.28), (-0.97, -1.04), (-0.85, -0.81), (-0.70, -0.73), (-0.55, -0.77), (-0.43, -0.96),
         (-0.30, -1.75), (-0.24, -2.30), (-0.18, -1.28), (-0.10, -0.49), (0, -0.02), (0.12, 0), (0.27, -0.10),
         (0.43, -0.34), (0.55, -0.49), (0.67, -0.65), (0.79, -0.81), (0.91, -0.34), (1.03, -0.10), (1.15, -0.18),
         (1.27, -0.57), (1.40, -0.96), (1.52, -0.45), (1.60, -0.81), (1.70, -1.28), (1.80, -1.75), (1.88, -0.18),
         (1.94, 0), (2.67, 0), (2.79, -0.34), (2.91, -0.81), (3.03, -1.04), (3.22, -1.28), (3.40, -1.43),
         (3.52, -1.63), (3.64, -1.51), (3.82, -1.20), (4.00, -0.88), (4.19, -0.57), (4.31, -0.34), (4.43, -0.26),
         (4.55, -0.34), (4.67, -0.49), (4.76, -0.73), (4.83, -1.20), (4.92, -1.59), (5.03, -2.53)]
AUV_X = [(-8, 0), (-7.52, 0.02), (-7.04, 0.05), (-6.86, 0.21), (-6.67, 0.45), (-6.55, 0.76), (-6.46, 1.15),
         (-6.41, 1.59), (-6.34, 1.31), (-6.28, 0.84), (-6.19, 0.60), (-6.09, 0.29), (-6.00, 0.45), (-5.88, 0.60),
         (-5.76, 0.53), (-5.64, 0.53), (-5.52, 0.76), (-5.40, 1.07), (-5.32, 0.76), (-5.22, 0.45), (-5.16, 0.53),
         (-5.07, 0.53), (-5.00, 0.45), (-4.95, 0.05), (-4.92, 0.45), (-4.83, 0.53), (-4.73, 0.60), (-4.61, 0.41),
         (-4.49, 0.53), (-4.43, 1.31), (-4.37, 1.39), (-4.27, 0.92), (-4.19, 0.60), (-4.13, 0.45), (-4.03, 0.53),
         (-3.95, 0.99), (-3.86, 1.31), (-3.76, 0.84), (-3.67, 0.37), (-3.62, 0.68), (-3.54, 1.15), (-3.46, 1.11),
         (-3.37, 0.84), (-3.28, 0.60), (-3.16, 0.60), (-3.03, 0.53), (-2.85, 0.45), (-2.73, 0.41), (-2.65, 0.33),
         (-2.55, -0.10), (-2.43, -0.22), (-2.25, -0.30), (-2.06, -0.22), (-1.88, -0.10), (-1.76, -0.18),
         (-1.64, -0.14), (-1.48, -0.38), (-1.33, -0.26), (-1.15, -0.18), (-0.97, -0.10), (-0.73, -0.02),
         (-0.49, -0.02), (-0.24, 0.09), (-0.12, 0.02), (0, -0.18), (0.12, -0.18), (0.24, -0.26), (0.36, -0.34),
         (0.51, -0.45), (0.67, -0.73), (0.79, -0.96), (0.87, -0.73), (0.97, -0.18), (1.09, -0.18), (1.21, -0.41),
         (1.31, -0.96), (1.40, -1.51), (1.52, -1.59), (1.60, -1.74), (1.70, -2.37), (1.80, -3.08), (1.85, -2.37),
         (1.89, -0.18), (1.94, 0), (2.67, 0), (2.85, -0.26), (3.03, -0.49), (3.28, -0.81), (3.52, -1.00),
         (3.70, -0.96), (3.95, -0.73), (4.19, -0.49), (4.25, -1.12), (4.37, -1.82), (4.49, -2.37), (4.59, -3.08),
         (4.73, -3.08), (4.85, -2.53), (5.03, -1.90)]

M_METALS = ["Cu", "Ag", "Au"]
X_METALS = ["Ta", "Nb", "V"]
CURVES = [
    [(CUTA_M, CUTA_X), (CUNB_M, CUNB_X), (CUV_M, CUV_X)],
    [(AGTA_M, AGTA_X), (AGNB_M, AGNB_X), (AGV_M, AGV_X)],
    [(AUTA_M, AUTA_X), (AUNB_M, AUNB_X), (AUV_M, AUV_X)],
]

XLIM = (-8, 5)
YLIM = (-3, 3)

# axes placement in figure fractions
COL_LEFT = [0.0715, 0.3946, 0.7177]
ROW_BOTTOM = [0.7075, 0.3861, 0.0637]
AX_W, AX_H = 0.276, 0.249


def draw_panel(ax, m, x, m_curve, x_curve):
    em, cm = np.array(m_curve).T
    ex, cx = np.array(x_curve).T
    ax.plot(em, cm, color="blue", lw=1.7, label=f"{m}-N")
    ax.plot(ex, cx, color="red", lw=1.7, ls=(0, (5, 2.5)), label=f"{x}-N")
    ax.axhline(0, color="black", lw=1.5)
    ax.axvline(0, color="black", lw=1.3, ls="--")
    ax.set_xlim(*XLIM)
    ax.set_ylim(*YLIM)
    ax.set_xticks([-5, 0, 5])
    ax.set_yticks([-2, 0, 2])
    ax.tick_params(labelsize=13.5, length=4)
    ax.set_title(f"{m}{x}N$_2$", fontsize=20, pad=3)
    ax.legend(loc="upper right", fontsize=13.5, handlelength=2.4, borderpad=0.5,
              labelspacing=0.5, handletextpad=1.0)


def main() -> None:
    fig = plt.figure(figsize=(13, 10.36), dpi=100)
    for r, m in enumerate(M_METALS):
        for c, x in enumerate(X_METALS):
            ax = fig.add_axes([COL_LEFT[c], ROW_BOTTOM[r], AX_W, AX_H])
            m_curve, x_curve = CURVES[r][c]
            draw_panel(ax, m, x, m_curve, x_curve)

    fig.text(0.532, 0.0, "Energies (eV)", ha="center", va="bottom", fontsize=23)
    fig.text(0.023, 0.512, "COHP", ha="center", va="center", rotation=90, fontsize=25)
    fig.savefig("out.png", dpi=100)
    plt.close(fig)


if __name__ == "__main__":
    main()
